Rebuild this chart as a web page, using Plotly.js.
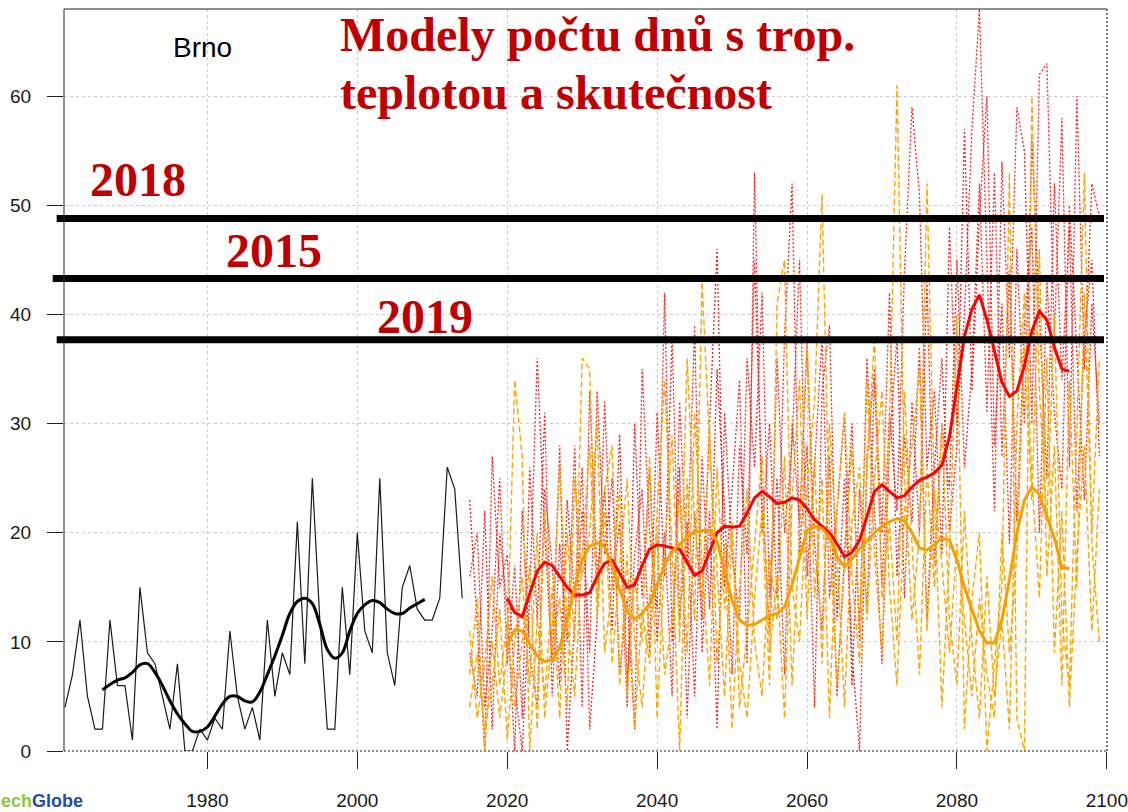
<!DOCTYPE html>
<html>
<head>
<meta charset="utf-8">
<script src="https://cdn.plot.ly/plotly-3.0.1.min.js"></script>
<style>html,body{margin:0;padding:0;background:#fff;}#chart{width:1128px;height:812px;}</style>
</head>
<body>
<div id="chart"></div>
<script>
// ---------- DATA ----------
const obsYears = [];
for (let y = 1961; y <= 2014; y++) obsYears.push(y);
const obsDays = [4,7,12,5,2,2,12,6,6,1,15,9,8,5,2,8,0,0,2,1,3,2,11,5,2,4,1,12,5,9,7,21,8,25,12,2,2,15,7,20,11,9,25,9,6,15,17,13,12,12,14,26,24,14];

const obsSmoothYears = [];
for (let y = 1966; y <= 2009; y++) obsSmoothYears.push(y);
const obsSmooth = [5.6,6.1,6.5,6.7,7.2,7.9,8.0,7.2,6.0,4.6,3.4,2.5,1.8,1.8,2.2,3.2,4.3,5.0,5.0,4.6,4.5,5.4,7.0,8.7,10.6,12.6,13.7,14.0,13.5,11.6,9.3,8.5,9.0,11.0,12.6,13.4,13.8,13.6,13.0,12.6,12.6,13.1,13.5,13.9];

const modelYears = [];
for (let y = 2015; y <= 2099; y++) modelYears.push(y);
const redRun1 = [23,12,0,27,15,18,6,0,14,36,20,8,28,0,12,22,9,33,18,25,7,14,2,35,20,13,42,10,26,3,22,12,30,46,15,24,34,8,53,20,30,14,38,52,18,28,4,33,39,12,25,9,0,27,35,15,31,22,44,59,51,26,33,18,48,30,40,57,68,45,22,54,36,59,55,30,62,63,38,58,26,60,35,52,49];
const redRun2 = [16,20,4,11,25,8,17,3,26,12,31,5,19,10,28,4,33,16,24,11,29,6,18,24,9,31,16,38,12,21,5,27,13,35,22,7,28,18,45,23,11,36,20,28,45,16,26,38,14,22,31,6,24,13,34,20,42,16,29,21,37,12,26,36,20,28,57,33,49,60,28,41,19,46,30,56,40,25,52,34,48,22,38,45,27];
const redRun3 = [9,5,22,2,20,13,0,22,9,4,24,17,6,23,14,26,2,12,32,15,21,4,30,14,26,10,20,5,32,17,39,9,22,2,31,18,12,36,26,42,14,25,7,30,21,37,19,11,27,5,18,30,10,36,22,8,28,38,14,32,20,43,17,30,24,45,26,35,52,31,53,27,44,21,39,48,20,43,31,24,50,37,23,41,30];
const orangeRun1 = [7,14,0,10,3,9,34,27,0,12,5,15,3,20,10,36,35,12,24,28,6,18,2,13,8,22,34,18,0,25,12,43,28,16,5,20,8,3,14,22,6,41,45,15,10,24,32,51,20,6,17,28,11,34,18,9,30,61,25,12,20,52,23,4,18,40,2,14,20,0,8,15,53,3,0,60,33,21,40,12,6,30,53,19,10];
const orangeRun2 = [11,3,8,16,6,12,4,10,17,2,22,9,14,4,25,16,20,30,9,15,24,5,16,10,27,3,18,29,10,36,21,14,30,8,19,2,15,24,10,5,18,12,27,6,20,38,14,25,3,22,31,16,8,26,38,14,21,10,33,19,7,26,15,30,12,6,22,10,3,16,5,12,2,30,42,25,14,36,9,22,4,18,28,11,24];
const orangeRun3 = [4,9,2,6,13,1,10,16,6,20,3,11,26,12,5,18,28,14,22,8,17,25,10,4,14,20,7,12,24,9,31,17,6,26,13,21,4,11,19,27,9,16,3,23,34,12,27,8,30,18,4,21,26,12,25,33,15,6,22,28,35,11,24,17,9,19,12,5,14,7,3,20,9,18,37,23,46,16,28,6,34,15,42,20,36];

const smoothYears = [];
for (let y = 2020; y <= 2095; y++) smoothYears.push(y);
const redSmooth = [14.0,12.7,12.3,14.5,16.5,17.3,17.0,16.0,15.0,14.3,14.3,14.5,16.0,17.2,17.5,16.3,15.0,15.2,17.0,18.5,18.9,18.8,18.6,18.5,17.3,16.1,16.5,18.3,20.0,20.6,20.5,20.6,21.8,23.2,23.8,23.3,22.7,22.8,23.2,23.0,22.2,21.2,20.6,20.0,19.0,17.8,18.2,19.3,21.5,23.8,24.4,23.8,23.2,23.4,24.2,24.8,25.1,25.5,26.2,28.8,33.5,38.0,40.5,41.8,39.5,36.5,33.8,32.5,33.0,35.3,38.5,40.3,39.5,37.0,35.0,34.8];
const orangeSmooth = [9.7,11.1,11.0,9.8,8.7,8.2,8.3,9.5,12.0,15.0,17.5,18.8,19.1,18.7,17.0,14.8,12.8,12.1,12.6,13.5,15.2,17.0,18.3,19.0,19.6,20.1,20.2,20.2,19.2,16.5,13.8,12.0,11.5,11.6,12.0,12.4,12.6,13.2,15.2,17.8,20.2,20.6,20.4,19.6,17.8,16.9,17.6,18.5,19.3,20.0,20.6,21.0,21.3,21.1,20.0,18.6,18.4,18.9,19.5,19.3,17.5,15.0,13.0,11.0,9.9,9.9,12.0,15.7,20.0,23.0,24.2,23.5,21.5,19.5,16.8,16.7];

const recordLabels = ['2018', '2015', '2019'];
const recordDays = [48.8, 43.3, 37.7];

const titleLines = ['Modely počtu dnů s trop.', 'teplotou a skutečnost'];
const stationName = 'Brno';
const xTicks = [1980, 2000, 2020, 2040, 2060, 2080, 2100];
const yTicks = [0, 10, 20, 30, 40, 50, 60];

// ---------- TRACES ----------
const traces = [];
[redRun1, redRun2, redRun3].forEach(r => traces.push({
  x: modelYears, y: r, type: 'scatter', mode: 'lines',
  line: {color: '#ff2020', width: 1.3, dash: '2px,2px'}, hoverinfo: 'skip'
}));
[orangeRun1, orangeRun2, orangeRun3].forEach(r => traces.push({
  x: modelYears, y: r, type: 'scatter', mode: 'lines',
  line: {color: '#ffa500', width: 1.4, dash: '6px,3px'}, hoverinfo: 'skip'
}));
traces.push({x: obsYears, y: obsDays, type: 'scatter', mode: 'lines',
  line: {color: '#1a1a1a', width: 1.2}});
traces.push({x: obsSmoothYears, y: obsSmooth, type: 'scatter', mode: 'lines',
  line: {color: '#000000', width: 3, shape: 'spline'}});
traces.push({x: smoothYears, y: redSmooth, type: 'scatter', mode: 'lines',
  line: {color: '#ff0000', width: 3}});
traces.push({x: smoothYears, y: orangeSmooth, type: 'scatter', mode: 'lines',
  line: {color: '#f5a000', width: 3}});

// ---------- LAYOUT ----------
const L = 64, R = 1107, T = 9, B = 751;
const W = R - L, H = B - T;
const px = v => (v - L) / W;
const py = v => (B - v) / H;

const recordStarts = [56.7, 52.7, 56.7];
const shapes = [];
recordDays.forEach((d, i) => shapes.push({
  type: 'line', xref: 'paper', yref: 'y', x0: px(recordStarts[i]), x1: px(1104), y0: d, y1: d,
  line: {color: '#000', width: 7}
}));
// plot box
shapes.push({type: 'line', xref: 'paper', yref: 'paper', x0: 0, x1: 0, y0: 0, y1: 1, line: {color: '#222', width: 1}});
shapes.push({type: 'line', xref: 'paper', yref: 'paper', x0: 0, x1: 1, y0: 1, y1: 1, line: {color: '#222', width: 1}});
shapes.push({type: 'line', xref: 'paper', yref: 'paper', x0: 0, x1: 1, y0: 0, y1: 0, line: {color: '#222', width: 1.2, dash: '2px,2px'}});
shapes.push({type: 'line', xref: 'paper', yref: 'paper', x0: 1, x1: 1, y0: 0, y1: 1, line: {color: '#222', width: 1.2, dash: '2px,2px'}});

const redFont = {family: '"Liberation Serif", "Times New Roman", serif', size: 48, color: '#c00000'};
const labelPos = [[138, 180], [274, 250], [425, 316]];
const annotations = [];
recordLabels.forEach((t, i) => annotations.push({
  text: '<b>' + t + '</b>', xref: 'paper', yref: 'paper',
  x: px(labelPos[i][0]), y: py(labelPos[i][1]), xanchor: 'center', yanchor: 'middle',
  showarrow: false, font: redFont
}));
annotations.push({text: '<b>' + titleLines[0] + '</b>', xref: 'paper', yref: 'paper',
  x: px(338), y: py(35), xanchor: 'left', yanchor: 'middle', showarrow: false, font: redFont});
annotations.push({text: '<b>' + titleLines[1] + '</b>', xref: 'paper', yref: 'paper',
  x: px(338), y: py(93), xanchor: 'left', yanchor: 'middle', showarrow: false, font: redFont});
annotations.push({text: stationName, xref: 'paper', yref: 'paper',
  x: px(202), y: py(48), xanchor: 'center', yanchor: 'middle', showarrow: false,
  font: {family: '"Liberation Sans", Arial, sans-serif', size: 28, color: '#000'}});
annotations.push({text: '<b><span style="color:#8dc63f">ech</span><span style="color:#1f4f9c">Globe</span></b>',
  xref: 'paper', yref: 'paper', x: px(-1), y: py(801), xanchor: 'left', yanchor: 'middle', showarrow: false,
  font: {family: '"Liberation Sans", Arial, sans-serif', size: 18, color: '#1f4f9c'}});

const tickFont = {family: '"Liberation Sans", Arial, sans-serif', size: 19, color: '#1a1a1a'};
const layout = {
  width: 1128, height: 812,
  margin: {l: L, r: 1128 - R, t: T, b: 812 - B, pad: 0},
  paper_bgcolor: '#ffffff', plot_bgcolor: '#ffffff',
  showlegend: false,
  xaxis: {
    range: [1960.87, 2100.02], tickvals: xTicks, ticktext: xTicks.map(String),
    ticks: 'outside', ticklen: 17, tickwidth: 1, tickcolor: '#222',
    showgrid: true, gridcolor: '#cccccc', griddash: 'dot', gridwidth: 1,
    zeroline: false, showline: false, tickfont: tickFont, ticklabelstandoff: 15
  },
  yaxis: {
    range: [0, 68], tickvals: yTicks, ticktext: yTicks.map(String),
    ticks: 'outside', ticklen: 16, tickwidth: 1, tickcolor: '#222',
    showgrid: true, gridcolor: '#cccccc', griddash: 'dot', gridwidth: 1,
    zeroline: false, showline: false, tickfont: tickFont, ticklabelstandoff: 12
  },
  shapes: shapes,
  annotations: annotations
};

Plotly.newPlot('chart', traces, layout, {displayModeBar: false, staticPlot: true});
</script>
</body>
</html>
